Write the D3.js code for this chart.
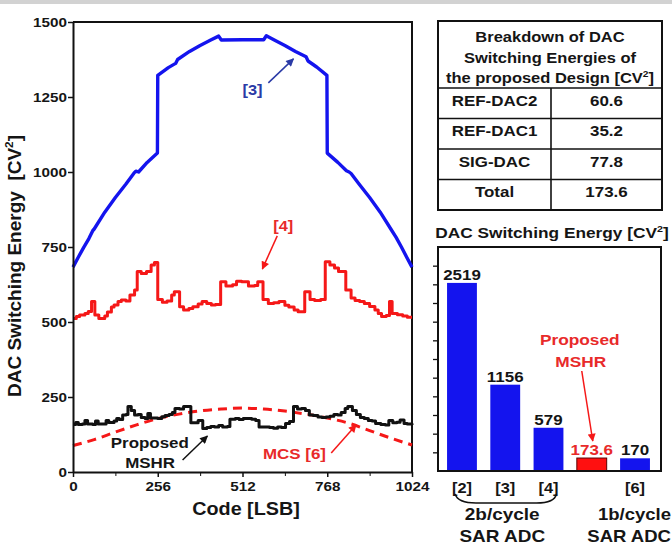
<!DOCTYPE html>
<html><head><meta charset="utf-8">
<script src="https://cdn.jsdelivr.net/npm/d3@7"></script>
<style>
body{margin:0;background:#fff}
svg{display:block}
text{font-family:"Liberation Sans",Arial,Helvetica,sans-serif;font-weight:bold}
</style>
</head><body>
<svg id="c" width="672" height="546"></svg>
<script>
// ---------------- DATA ----------------
const xTicks = [0, 256, 512, 768, 1024];
const xMinorTicks = [128, 384, 640, 896];
const yTicks = [0, 250, 500, 750, 1000, 1250, 1500];

// [3] energy vs code
const ref3 = [[0,683],[16,716],[32,748],[48,778],[60,805],[64,810],[96,866],[128,915],[160,960],[184,996],[190,1003],[198,1000],[224,1032],[255,1063],[256,1322],[288,1348],[310,1362],[316,1375],[352,1402],[384,1422],[416,1440],[440,1453],[448,1440],[512,1441],[576,1441],[584,1454],[608,1440],[640,1422],[672,1402],[704,1384],[710,1370],[736,1350],[767,1322],[768,1063],[800,1032],[826,1004],[834,1000],[840,995],[864,960],[896,915],[928,866],[960,810],[976,782],[992,750],[1008,716],[1024,683]];

// [4] energy vs code (stepwise)
const ref4 = [[0,512],[10,518],[20,523],[36,528],[46,535],[56,568],[66,523],[78,512],[96,520],[104,533],[116,550],[124,557],[136,568],[146,573],[160,570],[172,590],[186,607],[194,668],[206,662],[222,668],[236,690],[246,698],[256,575],[270,566],[284,570],[298,590],[306,601],[322,551],[334,540],[350,545],[362,551],[378,560],[390,568],[404,562],[418,557],[430,558],[446,634],[462,620],[482,624],[494,636],[510,634],[530,620],[548,622],[558,634],[574,575],[590,562],[606,564],[622,568],[640,556],[652,550],[668,540],[680,534],[700,601],[716,575],[730,572],[748,575],[762,701],[776,690],[790,680],[802,668],[824,607],[840,580],[852,572],[866,568],[880,562],[896,552],[912,540],[922,528],[932,518],[946,522],[956,568],[964,528],[980,524],[996,520],[1010,516],[1024,516]];

// Proposed MSHR (stepwise)
const mshr = [[0,158],[8,165],[16,158],[28,160],[36,172],[44,160],[60,158],[68,170],[76,160],[92,160],[100,172],[108,165],[124,170],[132,178],[140,175],[150,190],[160,192],[166,218],[176,205],[186,190],[196,192],[206,182],[218,178],[226,195],[234,180],[246,180],[256,178],[268,184],[278,188],[290,192],[300,198],[308,212],[322,210],[334,218],[356,164],[368,164],[378,172],[392,145],[404,148],[416,152],[428,150],[440,155],[452,150],[466,152],[474,176],[490,178],[502,175],[514,178],[528,178],[540,176],[552,172],[562,150],[578,150],[594,148],[606,146],[618,150],[630,148],[642,162],[654,168],[666,218],[678,210],[690,212],[702,205],[714,190],[726,188],[740,183],[752,182],[764,183],[776,186],[788,192],[800,190],[810,198],[822,212],[830,218],[844,205],[856,192],[868,182],[880,178],[892,172],[904,170],[914,162],[930,158],[944,157],[954,172],[966,164],[978,166],[988,173],[1000,162],[1010,160],[1024,157]];

// MCS [6] (dashed)
const mcs6 = [[0,88],[64,108],[128,133],[192,157],[256,178],[320,193],[384,204],[448,210],[512,213],[576,210],[640,203],[704,193],[768,180],[832,163],[896,138],[960,113],[1024,90]];

// Breakdown table
const tableHeader = ["Breakdown of DAC", "Switching Energies of", "the proposed Design [CV²]"];
const tableNames = ["REF-DAC2", "REF-DAC1", "SIG-DAC", "Total"];
const tableValues = ["60.6", "35.2", "77.8", "173.6"];

// Bar chart
const barCats = ["[2]", "[3]", "[4]", "Proposed", "[6]"];
const barValues = [2519, 1156, 579, 173.6, 170];
const barValueLabels = ["2519", "1156", "579", "173.6", "170"];
const barCatLabels = ["[2]", "[3]", "[4]", "", "[6]"];
const barTicks = [250, 500, 750, 1000, 1250, 1500, 1750, 2000, 2250, 2500, 2750];

// ---------------- DRAW ----------------
const BLUE = "#1414ee", RED = "#f51818", TXT = "#151515", BLUE_TXT = "#2a3aa6", RED_TXT = "#e82a2a";
const SX = 1.13;
const svg = d3.select("#c");

// top gray strip
svg.append("rect").attr("x",0).attr("y",0).attr("width",672).attr("height",4).attr("fill","#d2d2d2");

const defs = svg.append("defs");
function marker(id, color){
  defs.append("marker").attr("id",id).attr("viewBox","0 0 10 10").attr("refX",9).attr("refY",5)
    .attr("markerWidth",9).attr("markerHeight",8).attr("markerUnits","userSpaceOnUse").attr("orient","auto")
    .append("path").attr("d","M0,0 L10,5 L0,10 z").attr("fill",color);
}
marker("ah-blue", BLUE_TXT); marker("ah-red", RED); marker("ah-black", "#111");

function txt(parent, x, y, s, o = {}) {
  const size = o.size || 15, anchor = o.anchor || "middle", fill = o.fill || TXT, sx = o.sx || SX;
  const t = parent.append("text")
    .attr("transform", `translate(${x},${y})` + (o.rotate ? ` rotate(${o.rotate})` : "") + ` scale(${sx},1)`)
    .attr("text-anchor", anchor).attr("font-size", size).attr("fill", fill)
    .style("white-space","pre");
  const parts = s.split("²");
  t.append("tspan").text(parts[0]);
  if (parts.length > 1) {
    t.append("tspan").attr("dy", -size*0.42).attr("font-size", size*0.62).text("2");
    t.append("tspan").attr("dy", size*0.42).text(parts[1]);
  }
  return t;
}

// ===== Left line chart =====
const x = d3.scaleLinear().domain([0, 1024]).range([73, 412]);
const y = d3.scaleLinear().domain([0, 1500]).range([472, 22]);
const L = svg.append("g");

// frame (top + right)
L.append("path").attr("d", `M${x(0)},${y(1500)}H${x(1024)}V${y(0)}`).attr("fill","none").attr("stroke","#111").attr("stroke-width",2);

const line = d3.line().x(d => x(d[0])).y(d => y(d[1]));
L.append("path").datum(ref3).attr("d", line.curve(d3.curveLinear)).attr("fill","none").attr("stroke",BLUE).attr("stroke-width",3.4).attr("stroke-linejoin","round");
L.append("path").datum(ref4).attr("d", d3.line().x(d=>x(d[0])).y(d=>y(d[1])).curve(d3.curveStepAfter)).attr("fill","none").attr("stroke",RED).attr("stroke-width",3).attr("stroke-linejoin","round");
L.append("path").datum(mcs6).attr("d", d3.line().x(d=>x(d[0])).y(d=>y(d[1])).curve(d3.curveMonotoneX)).attr("fill","none").attr("stroke",RED).attr("stroke-width",3).attr("stroke-dasharray","9,6");
L.append("path").datum(mshr).attr("d", d3.line().x(d=>x(d[0])).y(d=>y(d[1])).curve(d3.curveStepAfter)).attr("fill","none").attr("stroke","#111").attr("stroke-width",3).attr("stroke-linejoin","round");

// axes
const xAxis = L.append("g").attr("transform", `translate(0,${y(0)})`)
  .call(d3.axisBottom(x).tickValues(xTicks).tickSize(5).tickSizeOuter(0).tickPadding(4).tickFormat(d3.format("d")));
L.append("g").attr("transform", `translate(0,${y(0)})`)
  .call(d3.axisBottom(x).tickValues(xMinorTicks).tickSize(4).tickFormat("")).call(g => g.select(".domain").remove());
const yAxis = L.append("g").attr("transform", `translate(${x(0)},0)`)
  .call(d3.axisLeft(y).tickValues(yTicks).tickSize(5).tickSizeOuter(0).tickPadding(1).tickFormat(d3.format("d")));
[xAxis, yAxis].forEach(a => {
  a.select(".domain").attr("stroke","#111").attr("stroke-width",2);
  a.selectAll(".tick line").attr("stroke","#111").attr("stroke-width",1.5);
  a.selectAll(".tick text").attr("font-size",13.5).attr("fill",TXT).attr("font-family",null);
});
xAxis.selectAll(".tick text").attr("transform",`scale(${SX},1)`);
yAxis.selectAll(".tick text").attr("x", -6/SX).attr("transform",`scale(${SX},1)`);
L.selectAll(".tick line").attr("stroke","#111");

// axis titles
txt(L, 246, 515, "Code [LSB]", {size: 17.5});
txt(L, 21, 266, "DAC Switching Energy\u00A0\u00A0[CV²]", {size: 19, rotate: -90, sx: 1});

// annotations
function arrow(g, a, b, id, color){
  g.append("line").attr("x1",a[0]).attr("y1",a[1]).attr("x2",b[0]).attr("y2",b[1])
    .attr("stroke",color).attr("stroke-width",1.5).attr("marker-end",`url(#${id})`);
}
txt(L, x(542), y(1257), "[3]", {size: 14.5, fill: BLUE_TXT});
arrow(L, [x(590), y(1297)], [x(666), y(1377)], "ah-blue", BLUE_TXT);
txt(L, x(635), y(803), "[4]", {size: 14.5, fill: RED_TXT});
arrow(L, [x(617), y(787)], [x(572), y(677)], "ah-red", RED);
txt(L, x(232), y(80), "Proposed", {size: 15});
txt(L, x(233), y(13), "MSHR", {size: 15});
arrow(L, [x(331), y(40)], [x(406), y(120)], "ah-black", "#111");
txt(L, x(669), y(43), "MCS [6]", {size: 15, fill: RED_TXT});
arrow(L, [x(780), y(63)], [x(855), y(157)], "ah-red", RED);

// ===== Table =====
const T = svg.append("g");
const tx0 = 438, tx1 = 662, tcol = 551, ty0 = 21, thead = 88, trow = 30.5;
T.append("rect").attr("x",tx0).attr("y",ty0).attr("width",tx1-tx0).attr("height",thead-ty0+trow*tableNames.length)
  .attr("fill","#fff").attr("stroke","#111").attr("stroke-width",2);
tableHeader.forEach((s,i) => txt(T, (tx0+tx1)/2, 42 + i*20.5, s, {size: 14.6}));
tableNames.forEach((n,i) => {
  const top = thead + i*trow;
  T.append("line").attr("x1",tx0).attr("x2",tx1).attr("y1",top).attr("y2",top).attr("stroke","#111").attr("stroke-width",1.6);
  txt(T, (tx0+tcol)/2, top + 17.5, n, {size: 15});
  txt(T, (tcol+tx1)/2, top + 17.5, tableValues[i], {size: 15});
});
T.append("line").attr("x1",tcol).attr("x2",tcol).attr("y1",thead).attr("y2",thead+trow*tableNames.length).attr("stroke","#111").attr("stroke-width",1.6);

// ===== Bar chart =====
const B = svg.append("g");
const xb = d3.scaleBand().domain(barCats).range([440.35, 656.65]).paddingInner(0.31).paddingOuter(0.155);
const yb = d3.scaleLinear().domain([0, 3000]).range([471, 247]);
txt(B, 552, 238, "DAC Switching Energy [CV²]", {size: 15.3});

B.selectAll("rect.bar").data(barCats).join("rect").attr("class","bar")
  .attr("x", d => xb(d)).attr("width", xb.bandwidth())
  .attr("y", (d,i) => yb(barValues[i])).attr("height", (d,i) => yb(0) - yb(barValues[i]))
  .attr("fill", (d,i) => i === 3 ? "#ff1010" : BLUE)
  .attr("stroke", (d,i) => i === 3 ? "#5a0000" : "none").attr("stroke-width", 1);

B.append("rect").attr("x",438).attr("y",yb(3000)).attr("width",223).attr("height",yb(0)-yb(3000))
  .attr("fill","none").attr("stroke","#111").attr("stroke-width",2);
const yAxB = B.append("g").attr("transform","translate(438,0)")
  .call(d3.axisLeft(yb).tickValues(barTicks).tickSize(5).tickFormat(""));
yAxB.select(".domain").remove();
yAxB.selectAll(".tick line").attr("stroke","#111").attr("stroke-width",1.3);

barCats.forEach((c,i) => {
  const cx = xb(c) + xb.bandwidth()/2;
  txt(B, cx, yb(barValues[i]) - 3, barValueLabels[i], {size: 15, fill: i === 3 ? RED_TXT : TXT});
  if (barCatLabels[i]) txt(B, cx, 493, barCatLabels[i], {size: 14.5});
});

// brace under 2b/cycle group
const c2 = xb("[2]") + xb.bandwidth()/2, c4 = xb("[4]") + xb.bandwidth()/2;
B.append("path").attr("d", `M${c2-7},494 Q${c2-4},503 ${c2+14},503 L${c4-12},503 Q${c4+6},503 ${c4+8},494`)
  .attr("fill","none").attr("stroke","#111").attr("stroke-width",1.5);
const cg = (xb("[2]") + xb("[4]") + xb.bandwidth())/2;
txt(B, cg - 3, 520, "2b/cycle", {size: 16.8});
txt(B, cg - 3, 542, "SAR ADC", {size: 16.8});
txt(B, 671, 520, "1b/cycle", {size: 16.4, anchor: "end"});
txt(B, 671, 542, "SAR ADC", {size: 16.4, anchor: "end"});

// proposed annotation
const cp = xb("Proposed") + xb.bandwidth()/2;
txt(B, cp - 12, 345, "Proposed", {size: 15.3, fill: RED_TXT});
txt(B, cp - 11, 367, "MSHR", {size: 15.3, fill: RED_TXT});
arrow(B, [cp - 10, 371], [cp + 1, 441], "ah-red", RED);
</script>
</body></html>
